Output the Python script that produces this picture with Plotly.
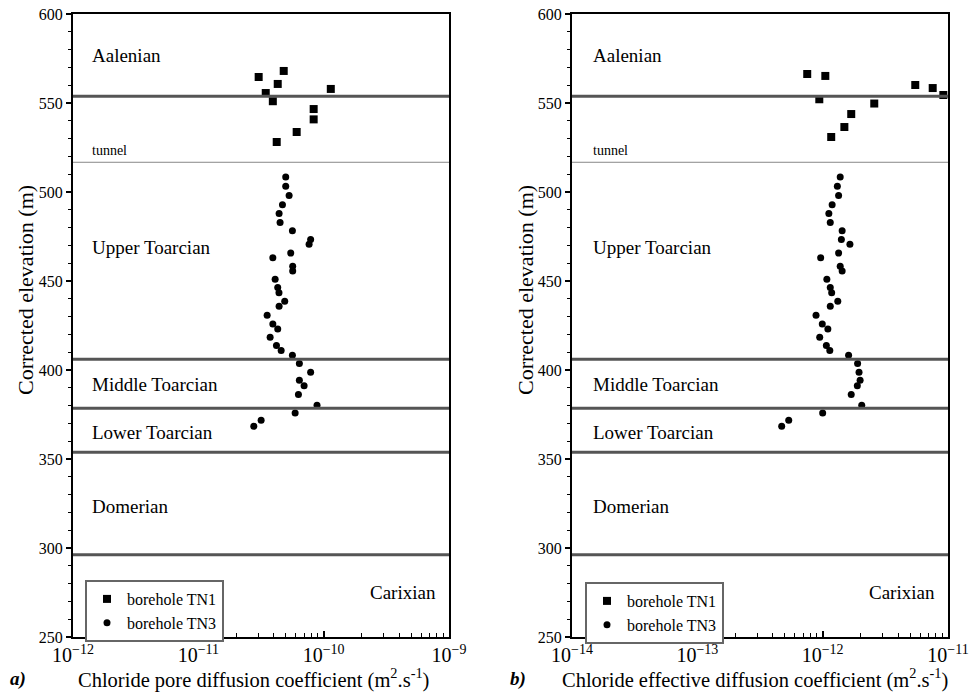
import plotly.graph_objects as go

# ---------------- data ----------------
# Borehole TN1 (squares)
tn1_elev_a = [568.0, 564.6, 560.7, 557.9, 555.6, 551.0, 546.6, 540.8, 533.7, 528.1]
tn1_dp = [4.80e-11, 3.03e-11, 4.30e-11, 1.14e-10, 3.45e-11, 3.93e-11, 8.32e-11, 8.32e-11, 6.09e-11, 4.22e-11]
tn1_elev_b = [566.3, 565.2, 560.1, 558.4, 554.5, 552.1, 549.7, 543.8, 536.5, 530.9]
tn1_de = [7.53e-13, 1.05e-12, 5.48e-12, 7.55e-12, 9.18e-12, 9.40e-13, 2.58e-12, 1.69e-12, 1.49e-12, 1.17e-12]

# Borehole TN3 (circles)
tn3_elev = [508.4, 503.2, 498.0, 492.9, 487.9, 482.8, 478.3, 473.3, 470.6, 465.7,
            463.1, 458.3, 455.6, 451.0, 446.3, 443.4, 438.6, 435.8, 430.7, 425.8,
            423.0, 418.4, 413.7, 410.9, 408.3, 403.6, 398.7, 394.2, 391.2, 386.2,
            380.2, 375.8, 371.7, 368.4]
tn3_dp = [4.98e-11, 4.98e-11, 5.30e-11, 4.69e-11, 4.41e-11, 4.49e-11, 5.63e-11, 7.87e-11, 7.65e-11, 5.46e-11,
          3.93e-11, 5.66e-11, 5.66e-11, 4.10e-11, 4.30e-11, 4.40e-11, 4.89e-11, 4.41e-11, 3.54e-11, 3.93e-11,
          4.30e-11, 3.74e-11, 4.20e-11, 4.58e-11, 5.63e-11, 6.40e-11, 7.87e-11, 6.40e-11, 6.98e-11, 6.29e-11,
          8.85e-11, 5.92e-11, 3.17e-11, 2.77e-11]
tn3_de = [1.38e-12, 1.31e-12, 1.34e-12, 1.19e-12, 1.12e-12, 1.15e-12, 1.43e-12, 1.41e-12, 1.65e-12, 1.34e-12,
          9.64e-13, 1.38e-12, 1.43e-12, 1.08e-12, 1.15e-12, 1.18e-12, 1.32e-12, 1.15e-12, 8.85e-13, 9.93e-13,
          1.10e-12, 9.47e-13, 1.07e-12, 1.14e-12, 1.61e-12, 1.90e-12, 1.95e-12, 1.99e-12, 1.89e-12, 1.69e-12,
          2.05e-12, 1.00e-12, 5.36e-13, 4.71e-13]

# stratigraphic boundaries (m) and tunnel level
boundaries = [553.8, 406.0, 378.5, 353.8, 296.2]
tunnel_elev = 516.7

# stage labels and their elevations
stage_names = ["Aalenian", "Upper Toarcian", "Middle Toarcian", "Lower Toarcian", "Domerian"]
stage_label_elev = [576.8, 468.9, 392.0, 365.0, 323.4]
carixian_label = "Carixian"
carixian_elev = 275.1

y_range = [250, 600]
xa_range_exp = [-12, -9]
xb_range_exp = [-14, -11]

SERIF = "Liberation Serif"

fig = go.Figure()

# ---------- traces ----------
fig.add_trace(go.Scatter(x=tn1_dp, y=tn1_elev_a, mode="markers", name="borehole TN1",
                         marker=dict(symbol="square", size=8, color="black"),
                         xaxis="x", yaxis="y", legend="legend"))
fig.add_trace(go.Scatter(x=tn3_dp, y=tn3_elev, mode="markers", name="borehole TN3",
                         marker=dict(symbol="circle", size=7, color="black"),
                         xaxis="x", yaxis="y", legend="legend"))
fig.add_trace(go.Scatter(x=tn1_de, y=tn1_elev_b, mode="markers", name="borehole TN1",
                         marker=dict(symbol="square", size=8, color="black"),
                         xaxis="x2", yaxis="y2", legend="legend2"))
fig.add_trace(go.Scatter(x=tn3_de, y=tn3_elev, mode="markers", name="borehole TN3",
                         marker=dict(symbol="circle", size=7, color="black"),
                         xaxis="x2", yaxis="y2", legend="legend2"))

W, H = 970, 692
dom_a = [73 / W, 449 / W]
dom_b = [572 / W, 948 / W]
dom_y = [(H - 637) / H, (H - 14) / H]

xaxis_common = dict(type="log", dtick=1, exponentformat="power", showgrid=False, zeroline=False,
                    automargin=False,
                    ticks="inside", ticklen=6, tickwidth=1.5, tickcolor="black",
                    showline=True, linecolor="black", linewidth=2, mirror=True,
                    tickfont=dict(family=SERIF, size=16, color="black"),
                    minor=dict(ticks="inside", ticklen=4, tickwidth=1.2, tickcolor="black", showgrid=False))
yaxis_common = dict(range=y_range, dtick=50, showgrid=False, zeroline=False,
                    automargin=False,
                    ticks="outside", ticklen=5, tickwidth=1.5, tickcolor="black",
                    showline=True, linecolor="black", linewidth=2, mirror=True,
                    tickfont=dict(family=SERIF, size=16, color="black"),
                    minor=dict(ticks="outside", dtick=10, ticklen=3, tickwidth=1.2, tickcolor="black", showgrid=False))

legend_common = dict(xanchor="left", yanchor="top",
                     bgcolor="white", bordercolor="#666", borderwidth=2,
                     font=dict(family=SERIF, size=16, color="black"),
                     tracegroupgap=0, itemwidth=30)

fig.update_layout(
    width=W, height=H,
    margin=dict(l=0, r=0, t=0, b=0, autoexpand=False),
    paper_bgcolor="white", plot_bgcolor="white",
    font=dict(family=SERIF, color="black"),
    xaxis=dict(domain=dom_a, range=xa_range_exp, anchor="y", **xaxis_common),
    yaxis=dict(domain=dom_y, anchor="x", **yaxis_common),
    xaxis2=dict(domain=dom_b, range=xb_range_exp, anchor="y2", **xaxis_common),
    yaxis2=dict(domain=dom_y, anchor="x2", **yaxis_common),
    legend=dict(x=85 / W, y=(H - 580) / H, **legend_common),
    legend2=dict(x=585 / W, y=(H - 582) / H, **legend_common),
    showlegend=True,
)

shapes = []
annotations = []
for xr, yr, text_x in [("x", "y", 0.045), ("x2", "y2", 0.05)]:
    for b in boundaries:
        shapes.append(dict(type="line", xref=f"{xr} domain", yref=yr, x0=0, x1=1, y0=b, y1=b,
                           line=dict(color="#555", width=3), layer="above"))
    shapes.append(dict(type="line", xref=f"{xr} domain", yref=yr, x0=0, x1=1, y0=tunnel_elev, y1=tunnel_elev,
                       line=dict(color="#888", width=1), layer="above"))
    for name, e in zip(stage_names, stage_label_elev):
        annotations.append(dict(text=name, xref=f"{xr} domain", yref=yr, x=text_x, y=e,
                                xanchor="left", yanchor="middle", showarrow=False,
                                font=dict(family=SERIF, size=19, color="black")))
    annotations.append(dict(text="tunnel", xref=f"{xr} domain", yref=yr, x=text_x, y=tunnel_elev + 1.5,
                            xanchor="left", yanchor="bottom", showarrow=False,
                            font=dict(family=SERIF, size=14, color="black")))
    annotations.append(dict(text=carixian_label, xref=f"{xr} domain", yref=yr, x=0.97, y=carixian_elev,
                            xanchor="right", yanchor="middle", showarrow=False,
                            font=dict(family=SERIF, size=19, color="black")))

# axis titles and panel letters
for xc, text in [(253, "Chloride pore diffusion coefficient (m<sup>2</sup>.s<sup>-1</sup>)"),
                 (755, "Chloride effective diffusion coefficient (m<sup>2</sup>.s<sup>-1</sup>)")]:
    annotations.append(dict(text=text, xref="paper", yref="paper", x=xc / W, y=(H - 678) / H,
                            xanchor="center", yanchor="middle", showarrow=False,
                            font=dict(family=SERIF, size=20.5, color="black")))
for xc, text in [(18, "<b><i>a)</i></b>"), (518, "<b><i>b)</i></b>")]:
    annotations.append(dict(text=text, xref="paper", yref="paper", x=xc / W, y=(H - 679) / H,
                            xanchor="center", yanchor="middle", showarrow=False,
                            font=dict(family=SERIF, size=19, color="black")))
for xc in [25, 525]:
    annotations.append(dict(text="Corrected elevation (m)", xref="paper", yref="paper", x=xc / W, y=(H - 290) / H,
                            xanchor="center", yanchor="middle", textangle=-90, showarrow=False,
                            font=dict(family=SERIF, size=22, color="black")))

fig.update_layout(shapes=shapes, annotations=annotations)
fig.write_html("out.html", config={"displayModeBar": False},
               post_script="document.body.style.margin='0';document.body.style.overflow='hidden';")
